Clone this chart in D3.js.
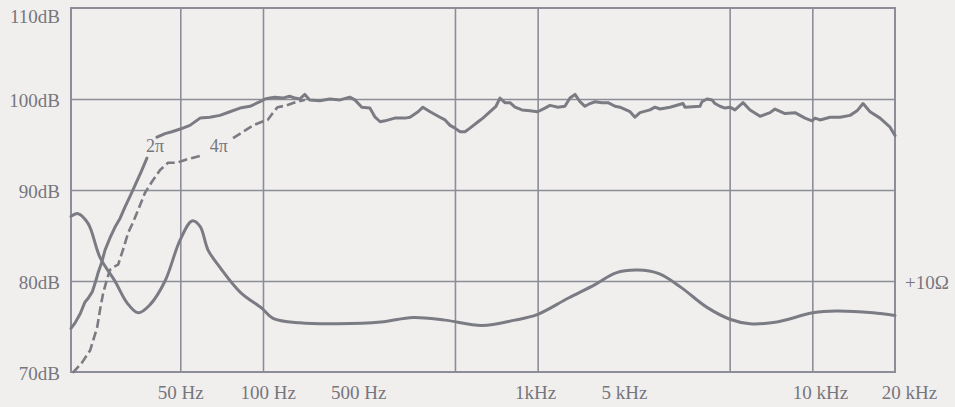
<!DOCTYPE html>
<html>
<head>
<meta charset="utf-8">
<script src="https://cdn.jsdelivr.net/npm/d3@7"></script>
<style>
  html, body { margin: 0; padding: 0; background: #f1efed; }
  svg { display: block; }
  text { font-family: "Liberation Serif", "Times New Roman", serif; fill: #76767e; }
</style>
</head>
<body>
<svg id="chart" width="955" height="407"></svg>
<script>
// ---- data (frequency in Hz, level in dB) ----
const gridFreqs = [50, 100, 500, 1000, 5000, 10000];
const xTickLabels = ["50 Hz", "100 Hz", "500 Hz", "1kHz", "5 kHz", "10 kHz", "20 kHz"];
const xTickLabelAt = [50, 104, 222, 978, 2062, 10668, 22500];
const yGrid = [80, 90, 100];
const yTicks = [70, 80, 90, 100, 110];
const yTickLabels = ["70dB", "80dB", "90dB", "100dB", "110dB"];

// 2π response (solid), null = break behind the "2π" label
const response2pi = [
  [20, 74.8], [20.7, 75.4], [21.6, 76.4], [22.5, 77.7], [23.1, 78.1], [23.9, 78.8], [24.5, 79.8],
  [25.1, 80.9], [25.9, 82.1], [26.6, 83.4], [27.7, 84.7], [28.9, 85.9], [30.2, 86.9], [31.4, 88.1],
  [32.8, 89.3], [34.2, 90.5], [36.0, 92.0], [37.8, 93.5], null,
  [41.1, 95.8], [44.0, 96.2], [46.6, 96.4], [50, 96.7], [54.2, 97.1], [59, 97.9], [64.1, 98.0],
  [69.7, 98.2], [75.8, 98.6], [82.5, 99.0], [89.7, 99.2], [97.5, 99.7], [101.7, 100.0], [106, 100.1],
  [110.6, 100.2], [118, 100.1], [125, 100.3], [131, 100.1], [136, 100.0], [142, 100.5], [148, 99.9],
  [161, 99.8], [175, 100.0], [191, 99.9], [207, 100.2], [216, 99.9], [229, 99.1], [245, 99.0],
  [256, 98.0], [267, 97.5], [278, 97.6], [302, 97.9], [329, 97.9], [343, 98.0], [367, 98.6],
  [382, 99.1], [406, 98.6], [441, 98.0], [460, 97.7], [480, 97.1], [500, 96.8], [522, 96.4],
  [544, 96.4], [567, 96.8], [607, 97.5], [632, 97.9], [671, 98.6], [705, 99.2], [729, 100.1],
  [760, 99.6], [793, 99.6], [827, 99.1], [877, 98.8], [938, 98.7], [1000, 98.6], [1063, 99.0],
  [1109, 99.3], [1186, 99.1], [1257, 99.2], [1311, 100.1], [1368, 100.5], [1426, 99.7], [1487, 99.2],
  [1551, 99.5], [1617, 99.7], [1715, 99.6], [1804, 99.6], [1913, 99.2], [1994, 99.1], [2169, 98.6],
  [2261, 98.0], [2358, 98.5], [2564, 98.8], [2674, 99.1], [2789, 98.9], [3033, 99.1], [3382, 99.5],
  [3439, 99.1], [3899, 99.2], [3965, 99.7], [4135, 100.0], [4312, 99.9], [4421, 99.5], [4611, 99.2],
  [4809, 99.0], [5015, 99.1], [5230, 98.8], [5593, 99.6], [5932, 98.8], [6451, 98.1], [7015, 98.5],
  [7315, 98.9], [7955, 98.4], [8651, 98.5], [9408, 97.9], [9977, 97.6], [10230, 97.9], [10668, 97.7],
  [11601, 98.0], [12616, 98.0], [13720, 98.2], [14548, 98.7], [15298, 99.5], [16224, 98.6],
  [17643, 97.9], [18399, 97.4], [19187, 96.9], [20000, 96.0]
];

// 4π response (dashed), null = break behind the "4π" label
const response4pi = [
  [20.3, 69.9], [21.9, 71.0], [23.5, 72.4], [24.9, 74.9], [25.5, 76.8], [26.2, 78.7], [27.0, 80.1],
  [27.7, 81.2], [28.4, 81.5], [29.7, 81.8], [30.9, 83.4], [32.3, 85.3], [33.6, 86.4], [35.1, 87.8],
  [37.2, 89.7], [39.4, 90.9], [42.2, 92.2], [45.1, 93.0], [48.6, 93.0], [52.0, 93.3], [56.6, 93.6],
  [60.0, 93.8], null,
  [77.8, 95.7], [84.6, 96.4], [92.0, 97.1], [99.2, 97.5], [104, 97.7], [108.8, 98.5], [113, 99.1],
  [122, 99.3], [133, 99.7], [142, 99.9]
];

// impedance curve (+10 Ω reference at 80 dB line)
const impedance = [
  [20, 87.1], [21.2, 87.4], [23.1, 86.3], [25.5, 82.6], [28.9, 80.0], [32.0, 77.6], [35.1, 76.5],
  [38.8, 77.4], [44.0, 80.0], [49.9, 84.5], [55.2, 86.6], [59.0, 86.0], [63.1, 83.4], [69.7, 81.5],
  [83.1, 78.7], [99.2, 77.0], [108.8, 75.9], [136, 75.4], [188, 75.3], [269, 75.5], [352, 76.0],
  [460, 75.7], [627, 75.1], [827, 75.7], [995, 76.3], [1290, 78.1], [1617, 79.6], [1929, 80.9],
  [2318, 81.2], [2764, 80.8], [3325, 79.3], [4137, 77.1], [5016, 75.8], [5932, 75.3], [7436, 75.5],
  [10056, 76.5], [12196, 76.7], [16636, 76.5], [20000, 76.2]
];

const curveLabels = [
  { text: "2\u03c0", f: 40.5, db: 94.2 },
  { text: "4\u03c0", f: 69, db: 94.2 }
];
const impedanceLabel = "+10\u03a9";

// ---- layout ----
(function draw() {
  const svg = d3.select("#chart");
  const pL = 71, pR = 895, pT = 8, pB = 372;
  const x = d3.scaleLog().domain([20, 20000]).range([pL, pR]);
  const y = d3.scaleLinear().domain([70, 110]).range([pB, pT]);

  const gridColor = "#8d8d99";
  const lineColor = "#7b7b84";

  // vertical grid
  const gx = svg.append("g").attr("transform", `translate(0,${pB})`)
    .call(d3.axisBottom(x).tickValues(gridFreqs).tickSize(-(pB - pT)).tickFormat(""));
  gx.select(".domain").remove();
  gx.selectAll("line").attr("stroke", gridColor).attr("stroke-width", 1.6);

  // horizontal grid
  const gy = svg.append("g").attr("transform", `translate(${pL},0)`)
    .call(d3.axisLeft(y).tickValues(yGrid).tickSize(-(pR - pL)).tickFormat(""));
  gy.select(".domain").remove();
  gy.selectAll("line").attr("stroke", gridColor).attr("stroke-width", 1.6);

  // frame
  svg.append("rect")
    .attr("x", x(20)).attr("y", y(110))
    .attr("width", x(20000) - x(20)).attr("height", y(70) - y(110))
    .attr("fill", "none").attr("stroke", gridColor).attr("stroke-width", 2);

  // x labels
  const xl = svg.append("g").attr("transform", `translate(0,${pB})`)
    .call(d3.axisBottom(x).tickValues(xTickLabelAt).tickSize(0).tickPadding(0)
      .tickFormat((d, i) => xTickLabels[i]));
  xl.select(".domain").remove();
  xl.selectAll("text")
    .attr("y", 27).attr("dy", 0)
    .style("font-size", "19px").style("font-family", "Liberation Serif, serif").attr("fill", "#76767e");

  // y labels
  svg.append("g").selectAll("text").data(yTicks).join("text")
    .attr("x", 60)
    .attr("y", d => Math.max(y(d) + 8, 23))
    .attr("text-anchor", "end")
    .style("font-size", "19px")
    .text((d, i) => yTickLabels[i]);

  // curves
  const line = d3.line()
    .defined(d => d !== null)
    .x(d => x(d[0])).y(d => y(d[1]));

  svg.append("path").datum(response4pi)
    .attr("d", line.curve(d3.curveLinear))
    .attr("fill", "none").attr("stroke", lineColor).attr("stroke-width", 2.6)
    .attr("stroke-dasharray", "9,4").attr("stroke-linejoin", "round");

  svg.append("path").datum(response2pi)
    .attr("d", line.curve(d3.curveLinear))
    .attr("fill", "none").attr("stroke", lineColor).attr("stroke-width", 3)
    .attr("stroke-linejoin", "round").attr("stroke-linecap", "round");

  svg.append("path").datum(impedance)
    .attr("d", line.curve(d3.curveCatmullRom.alpha(0.5)))
    .attr("fill", "none").attr("stroke", lineColor).attr("stroke-width", 3)
    .attr("stroke-linecap", "round");

  // curve labels
  svg.append("g").selectAll("text").data(curveLabels).join("text")
    .attr("x", d => x(d.f)).attr("y", d => y(d.db))
    .attr("text-anchor", "middle")
    .style("font-size", "18px")
    .text(d => d.text);

  svg.append("text")
    .attr("x", 905).attr("y", y(80) + 8)
    .style("font-size", "19px")
    .text(impedanceLabel);
})();
</script>
</body>
</html>
